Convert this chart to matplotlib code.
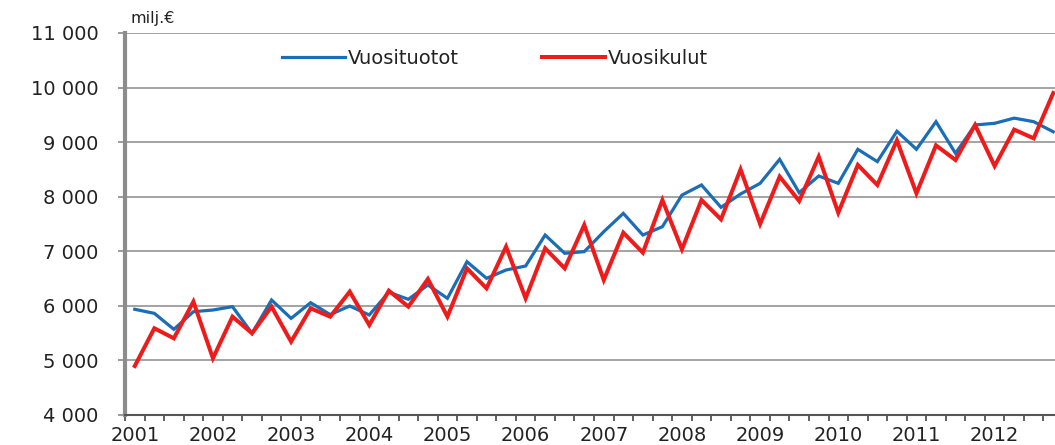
import matplotlib
matplotlib.use("Agg")
import matplotlib.pyplot as plt
import numpy as np

years = [str(y) for y in range(2001, 2013)]
quarters_per_year = 4

vuosituotot = [5937, 5863, 5570, 5893, 5924, 5985, 5497, 6107, 5771, 6058, 5840, 5997,
               5833, 6250, 6120, 6382, 6138, 6809, 6505, 6657, 6730, 7298, 6963, 6993,
               7359, 7695, 7298, 7451, 8030, 8215, 7805, 8050, 8245, 8685, 8074, 8380,
               8245, 8869, 8643, 9200, 8869, 9375, 8795, 9315, 9345, 9440, 9375, 9190]

vuosikulut = [4898, 5589, 5405, 6077, 5039, 5802, 5497, 5985, 5344, 5955, 5802, 6260,
              5649, 6278, 5985, 6492, 5802, 6687, 6321, 7084, 6138, 7054, 6687, 7482,
              6474, 7341, 6975, 7939, 7036, 7939, 7585, 8500, 7500, 8368, 7921, 8734,
              7707, 8582, 8215, 9032, 8062, 8941, 8673, 9315, 8563, 9230, 9070, 9900]

y_ticks = [4000, 5000, 6000, 7000, 8000, 9000, 10000, 11000]

plt.rcParams['font.family'] = ['DejaVu Sans']

fig = plt.figure(figsize=(10.55, 4.45), dpi=100)
ax = fig.add_axes([125/1055, 1-415/445, (1063-125)/1055, (415-33)/445])

x = np.arange(len(vuosituotot))
ax.plot(x, vuosituotot, color="#1B6DB5", lw=2.3, label="Vuosituotot", solid_joinstyle='miter')
ax.plot(x, vuosikulut, color="#EE1B1B", lw=2.9, label="Vuosikulut", solid_joinstyle='miter')

ax.set_xlim(-0.5, len(x) - 0.5)
ax.set_ylim(y_ticks[0], y_ticks[-1])
ax.set_yticks(y_ticks)
ax.set_yticklabels([f"{v:,}".replace(",", " ") for v in y_ticks])
ax.yaxis.grid(True, color="#8a8a8a", lw=1.1)
ax.set_axisbelow(True)

ax.set_xticks(np.arange(0, len(x), quarters_per_year))
ax.set_xticklabels(years)
ax.set_xticks(np.arange(-0.5, len(x), 1), minor=True)
ax.tick_params(axis='x', which='major', length=0, pad=8, labelsize=14, colors="#222222")
ax.tick_params(axis='x', which='minor', length=4, width=1.2, direction='out', color="#444444")
ax.tick_params(axis='y', which='major', length=5, width=1.2, color="#8a8a8a", pad=14,
               labelsize=14, labelcolor="#222222")

for s in ['top', 'right']:
    ax.spines[s].set_visible(False)
ax.spines['left'].set_color("#8c8c8c")
ax.spines['left'].set_linewidth(3.0)
ax.spines['bottom'].set_color("#555555")
ax.spines['bottom'].set_linewidth(1.5)

leg = fig.legend(*ax.get_legend_handles_labels(), loc='center left',
                 bbox_to_anchor=(282/1055, 1-58/445), bbox_transform=fig.transFigure,
                 ncol=2, frameon=False, fontsize=14, borderpad=0, borderaxespad=0,
                 handlelength=3.25, handletextpad=0.12, columnspacing=4.3)
for t in leg.get_texts():
    t.set_color("#222222")

fig.text(131/1055, 1-18/445, "milj.€", fontsize=11.5, color="#222222", va='center', ha='left')

fig.savefig("out.png", dpi=100)
